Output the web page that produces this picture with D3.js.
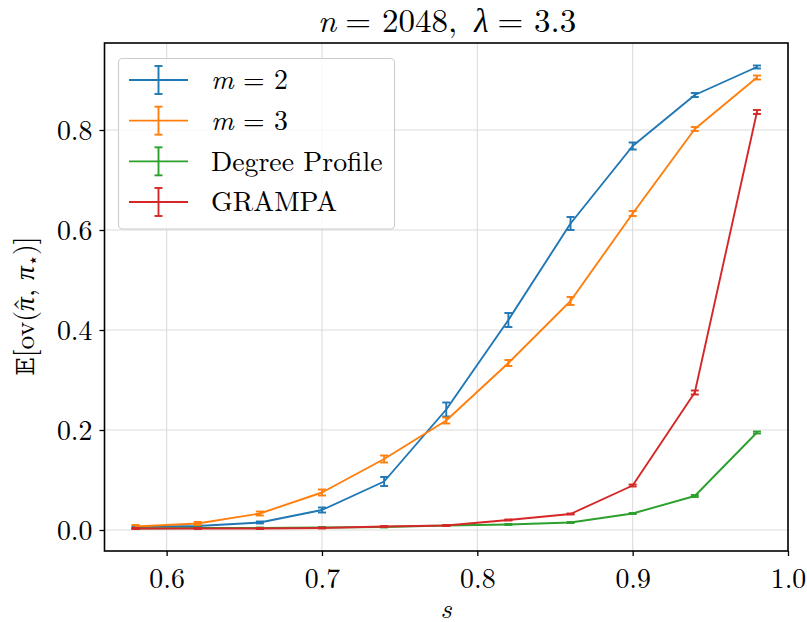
<!DOCTYPE html>
<html>
<head>
<meta charset="utf-8">
<script src="https://cdn.jsdelivr.net/npm/d3@7"></script>
<style>
  html, body { margin: 0; padding: 0; background: #fff; }
  svg { display: block; }
</style>
</head>
<body>
<svg id="chart" width="807" height="622"></svg>
<script>
// Similarity parameter s on the x axis
const sValues = [0.58, 0.62, 0.66, 0.70, 0.74, 0.78, 0.82, 0.86, 0.90, 0.94, 0.98];

// Mean overlap per method, with half-widths of the error bars
const m2Mean = [0.006, 0.008, 0.015, 0.040, 0.097, 0.241, 0.420, 0.613, 0.768, 0.870, 0.926];
const m2Err  = [0.002, 0.002, 0.002, 0.005, 0.009, 0.014, 0.014, 0.013, 0.007, 0.004, 0.003];
const m3Mean = [0.007, 0.013, 0.033, 0.075, 0.142, 0.219, 0.334, 0.458, 0.633, 0.802, 0.905];
const m3Err  = [0.003, 0.003, 0.004, 0.006, 0.007, 0.006, 0.006, 0.008, 0.005, 0.004, 0.004];
const degMean = [0.003, 0.004, 0.004, 0.005, 0.006, 0.009, 0.011, 0.015, 0.033, 0.068, 0.195];
const degErr  = [0.001, 0.001, 0.001, 0.001, 0.001, 0.001, 0.001, 0.001, 0.001, 0.002, 0.002];
const grMean = [0.003, 0.003, 0.003, 0.004, 0.007, 0.009, 0.020, 0.032, 0.089, 0.275, 0.836];
const grErr  = [0.001, 0.001, 0.001, 0.001, 0.001, 0.001, 0.001, 0.001, 0.002, 0.004, 0.004];

const seriesNames = ["m = 2", "m = 3", "Degree Profile", "GRAMPA"];
const seriesColors = ["#1f77b4", "#ff7f0e", "#2ca02c", "#d62728"];

const xTicks = [0.6, 0.7, 0.8, 0.9, 1.0];
const yTicks = [0.0, 0.2, 0.4, 0.6, 0.8];

const series = [
  { name: seriesNames[0], color: seriesColors[0], mean: m2Mean, err: m2Err },
  { name: seriesNames[1], color: seriesColors[1], mean: m3Mean, err: m3Err },
  { name: seriesNames[2], color: seriesColors[2], mean: degMean, err: degErr },
  { name: seriesNames[3], color: seriesColors[3], mean: grMean, err: grErr }
];

const FONT = "'Latin Modern Roman', 'Liberation Serif', serif";
const svg = d3.select("#chart").attr("font-family", FONT);
const plot = { left: 104.5, right: 788, top: 43, bottom: 551 };

const x = d3.scaleLinear().domain([0.56, 1.0]).range([plot.left, plot.right]);
const y = d3.scaleLinear().domain([-0.042, 0.974]).range([plot.bottom, plot.top]);

// Grid lines
const grid = svg.append("g");
grid.selectAll(".gx").data(xTicks).join("line")
  .attr("x1", d => x(d)).attr("x2", d => x(d))
  .attr("y1", plot.top).attr("y2", plot.bottom)
  .attr("stroke", "#dcdcdc").attr("stroke-width", 1.1);
grid.selectAll(".gy").data(yTicks).join("line")
  .attr("x1", plot.left).attr("x2", plot.right)
  .attr("y1", d => y(d)).attr("y2", d => y(d))
  .attr("stroke", "#dcdcdc").attr("stroke-width", 1.1);

// Series lines and error bars
const cap = 4;
const line = d3.line().x(d => x(d.s)).y(d => y(d.v));
series.forEach(sr => {
  const pts = sValues.map((s, i) => ({ s, v: sr.mean[i], e: sr.err[i] }));
  const g = svg.append("g");
  g.append("path").datum(pts)
    .attr("d", line).attr("fill", "none")
    .attr("stroke", sr.color).attr("stroke-width", 1.9)
    .attr("stroke-linejoin", "round");
  const eb = g.selectAll(".eb").data(pts).join("g");
  eb.append("line")
    .attr("x1", d => x(d.s)).attr("x2", d => x(d.s))
    .attr("y1", d => y(d.v - d.e)).attr("y2", d => y(d.v + d.e))
    .attr("stroke", sr.color).attr("stroke-width", 1.9);
  [-1, 1].forEach(sign => {
    eb.append("line")
      .attr("x1", d => x(d.s) - cap).attr("x2", d => x(d.s) + cap)
      .attr("y1", d => y(d.v + sign * d.e)).attr("y2", d => y(d.v + sign * d.e))
      .attr("stroke", sr.color).attr("stroke-width", 1.9);
  });
});

// Axes
const xAxis = d3.axisBottom(x).tickValues(xTicks).tickFormat(d3.format(".1f")).tickSize(5).tickPadding(6);
const yAxis = d3.axisLeft(y).tickValues(yTicks).tickFormat(d3.format(".1f")).tickSize(5).tickPadding(7);

const gx = svg.append("g").attr("transform", `translate(0,${plot.bottom})`).call(xAxis);
const gy = svg.append("g").attr("transform", `translate(${plot.left},0)`).call(yAxis);
[gx, gy].forEach(g => {
  g.attr("font-family", FONT).attr("font-size", 27.8);
  g.select(".domain").remove();
  g.selectAll(".tick line").attr("stroke", "#000").attr("stroke-width", 1.3);
  g.selectAll(".tick text")
    .style("font-family", FONT)
    .style("font-size", "27.8px").attr("fill", "#000");
});
gx.selectAll(".tick text").attr("dy", "0.93em");
gy.selectAll(".tick text").attr("dy", "0.33em");

// Frame
svg.append("rect")
  .attr("x", plot.left).attr("y", plot.top)
  .attr("width", plot.right - plot.left).attr("height", plot.bottom - plot.top)
  .attr("fill", "none").attr("stroke", "#000").attr("stroke-width", 1.6);

// Title: the pieces are laid out one after another and centred as a group
const titleParts = [
  { t: "n", it: true, gap: 0 },
  { t: "= 2048,", it: false, gap: 9 },
  { t: "λ", it: true, gap: 17 },
  { t: "= 3.3", it: false, gap: 9 }
];
const tg = svg.append("g");
let cursor = 0;
titleParts.forEach(p => {
  cursor += p.gap;
  const node = tg.append("text")
    .attr("x", cursor).attr("y", 32)
    .attr("font-style", p.it ? "italic" : "normal")
    .style("font-family", FONT).style("font-size", "33px")
    .text(p.t);
  cursor += node.node().getComputedTextLength();
});
tg.attr("transform", `translate(${447 - cursor / 2},0)`);

// Axis labels
svg.append("text")
  .attr("x", 446).attr("y", 618)
  .attr("text-anchor", "middle").attr("font-style", "italic")
  .style("font-family", FONT).style("font-size", "27.8px").text("s");

const yl = svg.append("text")
  .attr("transform", `translate(34,306) rotate(-90)`)
  .attr("text-anchor", "middle")
  .style("font-family", FONT).style("font-size", "27.8px");
yl.append("tspan").style("font-family", "'DejaVu Serif', serif").style("font-size", "24px").text("𝔼");
yl.append("tspan").text("[ov(");
yl.append("tspan").attr("font-style", "italic").text("π");
yl.append("tspan").attr("dx", "-0.52em").attr("dy", "-0.05em").text("\u02C6");
yl.append("tspan").attr("dx", "0.02em").attr("dy", "0.05em").text(", ");
yl.append("tspan").attr("font-style", "italic").text("π");
yl.append("tspan").attr("dy", 5).style("font-size", "18px").text("⋆");
yl.append("tspan").attr("dy", -5).text(")]");

// Legend
const lg = svg.append("g");
lg.append("rect")
  .attr("x", 118.5).attr("y", 58.5).attr("width", 276).attr("height", 170.5)
  .attr("rx", 4).attr("fill", "#fff").attr("fill-opacity", 0.8)
  .attr("stroke", "#cccccc").attr("stroke-width", 1.1);
const rowY = d3.scaleLinear().domain([0, 3]).range([80, 202]);
series.forEach((sr, i) => {
  const yy = rowY(i);
  lg.append("line").attr("x1", 129).attr("x2", 188).attr("y1", yy).attr("y2", yy)
    .attr("stroke", sr.color).attr("stroke-width", 1.9);
  lg.append("line").attr("x1", 158.5).attr("x2", 158.5).attr("y1", yy - 14).attr("y2", yy + 14)
    .attr("stroke", sr.color).attr("stroke-width", 1.9);
  [-14, 14].forEach(o => lg.append("line")
    .attr("x1", 158.5 - cap).attr("x2", 158.5 + cap).attr("y1", yy + o).attr("y2", yy + o)
    .attr("stroke", sr.color).attr("stroke-width", 1.9));
  const t = lg.append("text").attr("x", 211).attr("y", yy).attr("dy", "0.33em")
    .style("font-family", FONT).style("font-size", "27.8px");
  if (sr.name.startsWith("m")) {
    t.append("tspan").attr("font-style", "italic").text("m");
    t.append("tspan").text(sr.name.slice(1));
  } else {
    t.text(sr.name);
  }
});
</script>
</body>
</html>
